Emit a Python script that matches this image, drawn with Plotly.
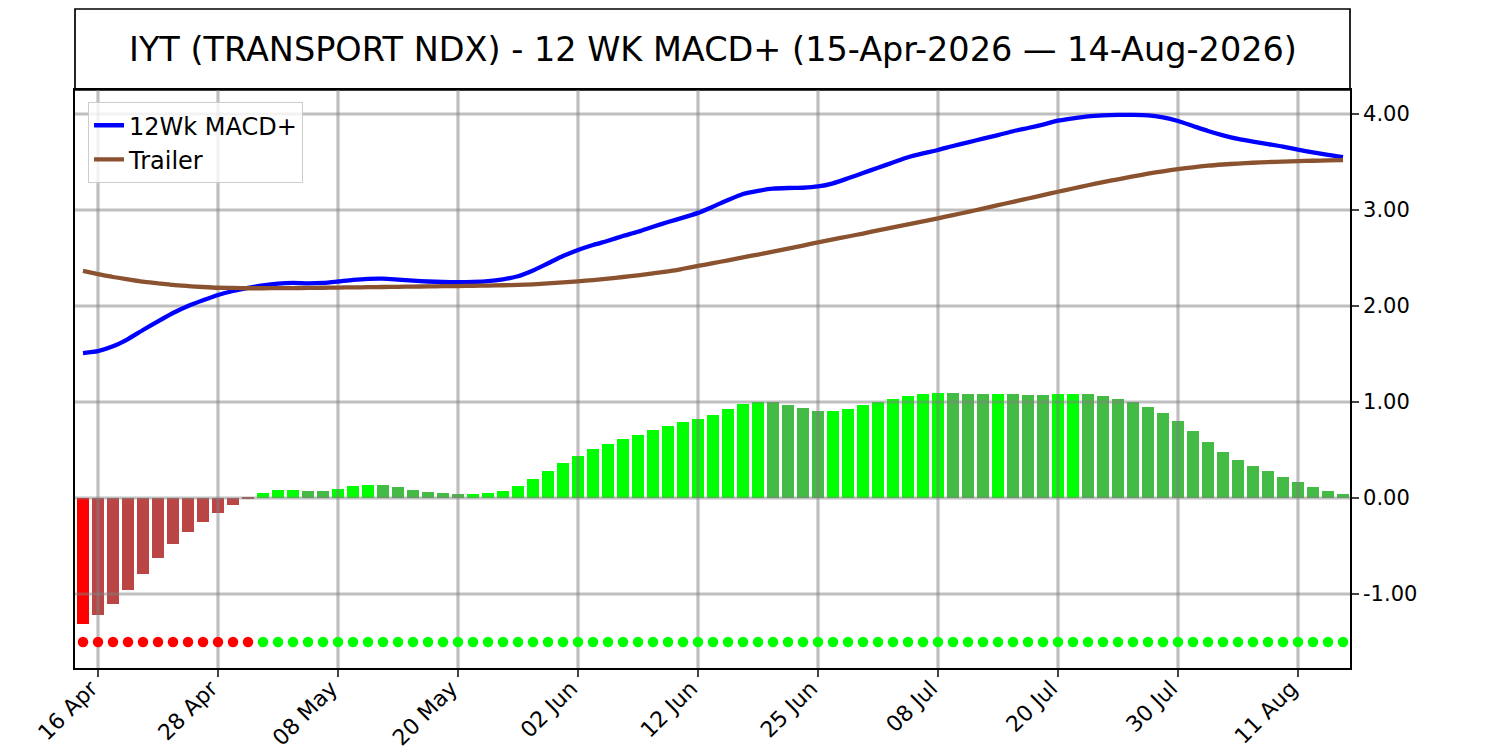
import pandas as pd
import plotly.graph_objects as go

# trading days 15-Apr-2026 .. 14-Aug-2026 (US market holidays skipped)
dates = pd.bdate_range("2026-04-15", "2026-08-14", freq="C",
                       holidays=["2026-05-25", "2026-06-19", "2026-07-03"])

tick_dates = ["2026-04-16", "2026-04-28", "2026-05-08", "2026-05-20", "2026-06-02",
              "2026-06-12", "2026-06-25", "2026-07-08", "2026-07-20", "2026-07-30",
              "2026-08-11"]
y_ticks = [-1, 0, 1, 2, 3, 4]

macd = [1.51, 1.53, 1.58, 1.656, 1.75, 1.84, 1.927, 2.0, 2.06, 2.115,
        2.156, 2.188, 2.215, 2.233, 2.24, 2.236, 2.24, 2.255, 2.272, 2.283,
        2.285, 2.275, 2.264, 2.255, 2.25, 2.248, 2.25, 2.258, 2.278, 2.31,
        2.37, 2.445, 2.52, 2.583, 2.635, 2.68, 2.729, 2.774, 2.826, 2.875,
        2.92, 2.97, 3.035, 3.104, 3.167, 3.2, 3.222, 3.229, 3.232, 3.245,
        3.278, 3.33, 3.385, 3.44, 3.495, 3.55, 3.59, 3.625, 3.667, 3.705,
        3.743, 3.78, 3.82, 3.854, 3.89, 3.93, 3.955, 3.976, 3.986, 3.99,
        3.99, 3.986, 3.965, 3.927, 3.875, 3.823, 3.778, 3.74, 3.712, 3.687,
        3.66, 3.628, 3.6, 3.573, 3.55]

trailer = [2.365, 2.333, 2.302, 2.278, 2.253, 2.236, 2.219, 2.208, 2.198, 2.19,
           2.188, 2.185, 2.185, 2.186, 2.187, 2.188, 2.19, 2.192, 2.194, 2.196,
           2.198, 2.2, 2.202, 2.204, 2.206, 2.208, 2.21, 2.213, 2.216, 2.22,
           2.226, 2.236, 2.246, 2.257, 2.27, 2.285, 2.302, 2.32, 2.34, 2.36,
           2.388, 2.417, 2.446, 2.476, 2.506, 2.536, 2.567, 2.598, 2.63, 2.662,
           2.693, 2.724, 2.755, 2.787, 2.818, 2.85, 2.881, 2.913, 2.947, 2.98,
           3.015, 3.05, 3.085, 3.12, 3.155, 3.19, 3.224, 3.258, 3.29, 3.32,
           3.35, 3.378, 3.403, 3.425, 3.445, 3.462, 3.474, 3.484, 3.492, 3.499,
           3.504, 3.509, 3.513, 3.516, 3.52]

hist = [-1.31, -1.22, -1.10, -0.955, -0.79, -0.62, -0.475, -0.35, -0.245, -0.155,
        -0.07, -0.01, 0.05, 0.08, 0.085, 0.075, 0.072, 0.094, 0.125, 0.135,
        0.133, 0.115, 0.083, 0.063, 0.052, 0.042, 0.045, 0.05, 0.073, 0.125,
        0.198, 0.28, 0.365, 0.437, 0.51, 0.562, 0.614, 0.656, 0.708, 0.75,
        0.79, 0.823, 0.865, 0.927, 0.979, 1.0, 0.998, 0.969, 0.938, 0.906,
        0.908, 0.927, 0.969, 1.0, 1.03, 1.06, 1.083, 1.094, 1.09, 1.083,
        1.08, 1.084, 1.082, 1.073, 1.072, 1.08, 1.083, 1.081, 1.062, 1.03,
        1.0, 0.948, 0.885, 0.802, 0.698, 0.583, 0.479, 0.396, 0.333, 0.281,
        0.219, 0.167, 0.115, 0.073, 0.042]

SIGNAL_Y = -1.5
Y_RANGE = [-1.771, 4.25]
X_RANGE = [-0.533, 84.467]

x = list(range(len(dates)))
date_keys = [d.strftime("%Y-%m-%d") for d in dates]
tick_pos = [date_keys.index(d) for d in tick_dates]
tick_txt = [pd.Timestamp(d).strftime("%d %b") for d in tick_dates]
y_tick_txt = [f"{v:.2f}" for v in y_ticks]   # plain hyphen for the negative label

# bright colour while the histogram moves away from zero, muted while it shrinks back
bar_cols = []
for i, v in enumerate(hist):
    growing = i == 0 or abs(v) > abs(hist[i - 1])
    if v < 0:
        bar_cols.append("#ff0000" if growing else "#bb4545")
    else:
        bar_cols.append("#00ff00" if growing else "#44bb44")
dot_cols = ["#ff0000" if v < 0 else "#00ff00" for v in hist]

fig = go.Figure()
fig.add_trace(go.Bar(x=x, y=hist, marker=dict(color=bar_cols, line_width=0),
                     width=0.75, showlegend=False))

# grid drawn as a trace so it sits over the bars but under the lines
gx, gy = [], []
for t in tick_pos:
    gx += [t, t, None]
    gy += [Y_RANGE[0], Y_RANGE[1], None]
for v in y_ticks:
    gx += [X_RANGE[0], X_RANGE[1], None]
    gy += [v, v, None]
fig.add_trace(go.Scatter(x=gx, y=gy, mode="lines", hoverinfo="skip", showlegend=False,
                         line=dict(color="rgba(128,128,128,0.5)", width=3.2)))

fig.add_trace(go.Scatter(x=x, y=[SIGNAL_Y] * len(x), mode="markers", showlegend=False,
                         marker=dict(color=dot_cols, size=10.5)))
fig.add_trace(go.Scatter(x=x, y=macd, mode="lines", name="12Wk MACD+",
                         line=dict(color="#0000ff", width=4.3, shape="spline", smoothing=0.6)))
fig.add_trace(go.Scatter(x=x, y=trailer, mode="lines", name="Trailer",
                         line=dict(color="#8b5230", width=4.3, shape="spline", smoothing=0.6)))

title_top = 1 + 81 / 578
fig.add_shape(type="rect", xref="paper", yref="paper", x0=0, x1=1, y0=1, y1=title_top,
              line=dict(color="black", width=1.7), fillcolor="white", layer="below")
fig.add_annotation(xref="paper", yref="paper", x=0.5, y=(1 + title_top) / 2,
                   text="IYT (TRANSPORT NDX) - 12 WK MACD+ (15-Apr-2026 — 14-Aug-2026)",
                   showarrow=False, font=dict(size=33.5, color="black"),
                   xanchor="center", yanchor="middle")

# the page body adds ~8px offset, so margins are shifted to land the plot at 75..1350 / 90..668
fig.update_layout(
    width=1500, height=750,
    margin=dict(l=67, r=158, t=82, b=90, autoexpand=False),
    paper_bgcolor="white", plot_bgcolor="white",
    font=dict(family="DejaVu Sans", color="black"),
    bargap=0,
    legend=dict(x=0.0102, y=0.979, xanchor="left", yanchor="top",
                bgcolor="rgba(255,255,255,0.8)", bordercolor="#cccccc", borderwidth=1,
                font=dict(size=24), itemwidth=30),
)
fig.update_xaxes(range=X_RANGE, tickvals=tick_pos, ticktext=tick_txt, tickangle=-45,
                 showgrid=False, zeroline=False, showline=True, linecolor="black",
                 linewidth=1.7, mirror=True, ticks="outside", ticklen=7, tickwidth=1.7,
                 tickfont=dict(size=22), automargin=False,
                 ticklabelstandoff=-10, ticklabelshift=-7)
fig.update_yaxes(range=Y_RANGE, tickvals=y_ticks, ticktext=y_tick_txt, side="right",
                 showgrid=False, zeroline=False, showline=True, linecolor="black",
                 linewidth=1.7, mirror=True, ticks="outside", ticklen=7, tickwidth=1.7,
                 tickfont=dict(size=21), automargin=False)

fig.write_html("out.html")
